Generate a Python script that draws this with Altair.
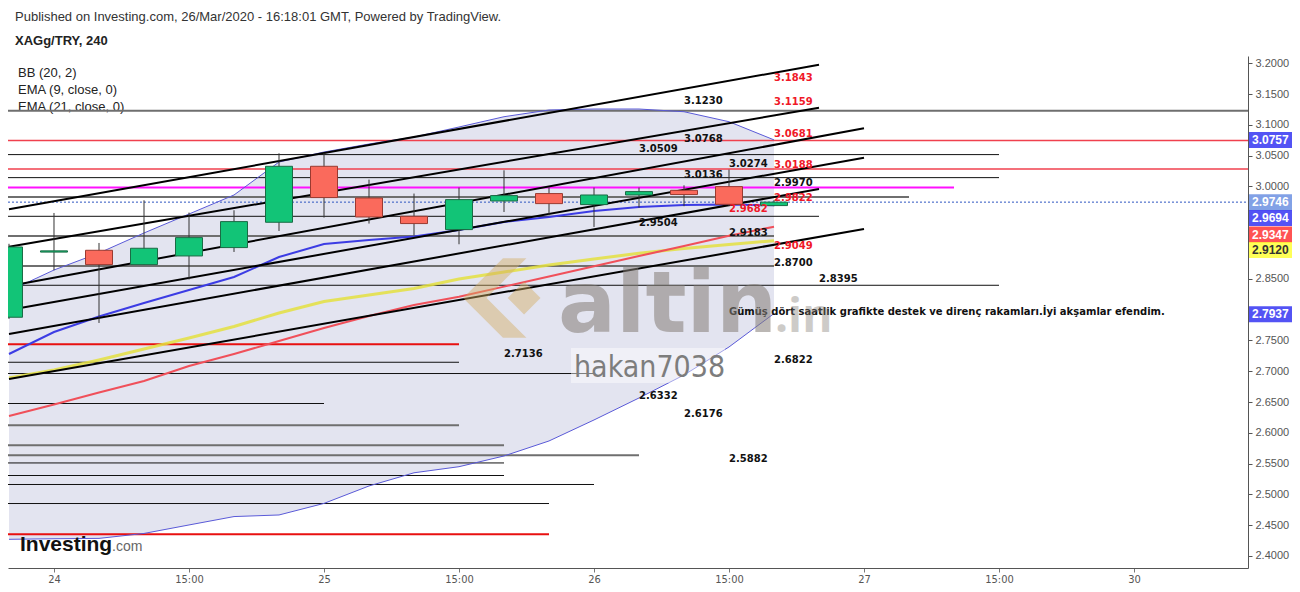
import altair as alt
import pandas as pd

# ---------------- data ----------------
opens  = [2.7877, 2.8935, 2.8964, 2.8732, 2.8872, 2.9008, 2.9419, 3.0328, 2.9813, 2.9516, 2.9300, 2.9765, 2.9885, 2.9706, 2.9862, 2.9938, 2.9998, 2.9690]
closes = [2.9018, 2.8955, 2.8732, 2.8997, 2.9170, 2.9430, 3.0328, 2.9820, 2.9505, 2.9398, 2.9787, 2.9852, 2.9722, 2.9862, 2.9917, 2.9869, 2.9711, 2.9746]
highs  = [2.9070, 2.9570, 2.9083, 2.9776, 2.9576, 2.9614, 3.0539, 3.0544, 3.0112, 2.9885, 2.9982, 3.0263, 2.9982, 2.9982, 2.9982, 3.0019, 3.0274, 2.9780]
lows   = [2.7850, 2.8640, 2.7784, 2.8732, 2.8489, 2.8937, 2.9278, 2.9495, 2.9398, 2.9208, 2.9062, 2.9586, 2.9532, 2.9343, 2.9657, 2.9679, 2.9682, 2.9680]

bb_upper = [2.8303, 2.8644, 2.8920, 2.9245, 2.9553, 2.9862, 3.0397, 3.0560, 3.0690, 3.0803, 3.0966, 3.1133, 3.1242, 3.1258, 3.1258, 3.1214, 3.1052, 3.0757]
bb_mid   = [2.7280, 2.7637, 2.7889, 2.8108, 2.8319, 2.8530, 2.8855, 2.9066, 2.9131, 2.9188, 2.9293, 2.9423, 2.9504, 2.9602, 2.9667, 2.9699, 2.9707, 2.9694]
bb_lower = [2.4271, 2.4280, 2.4286, 2.4366, 2.4504, 2.4640, 2.4666, 2.4854, 2.5137, 2.5351, 2.5450, 2.5624, 2.5868, 2.6209, 2.6566, 2.6939, 2.7394, 2.7937]
ema_red    = [2.6273, 2.6460, 2.6655, 2.6842, 2.7085, 2.7280, 2.7491, 2.7702, 2.7897, 2.8076, 2.8209, 2.8374, 2.8538, 2.8704, 2.8870, 2.9034, 2.9199, 2.9347]
ema_yellow = [2.6890, 2.7020, 2.7183, 2.7361, 2.7540, 2.7727, 2.7946, 2.8133, 2.8238, 2.8344, 2.8498, 2.8611, 2.8725, 2.8823, 2.8915, 2.8993, 2.9058, 2.9120]

x_tick_idx = [1, 4, 7, 10, 13, 16, 19, 22, 25]
x_tick_labels = ["24", "15:00", "25", "15:00", "26", "15:00", "27", "15:00", "30"]
# visible right-axis labels (2.8000, 2.9000 and 2.9500 are hidden under the price tags)
y_tick_values = [2.40, 2.45, 2.50, 2.55, 2.60, 2.65, 2.70, 2.75, 2.85, 3.00, 3.05, 3.10, 3.15, 3.20]

# trend channel lines (start candle, start price, end candle, end price)
tl_x0 = [0, 0, 0, 0, 0, 0]
tl_y0 = [2.9630, 2.9022, 2.8384, 2.7994, 2.7605, 2.6874]
tl_x1 = [18, 18, 19, 19, 18, 19]
tl_y1 = [3.1977, 3.1279, 3.0945, 3.0467, 2.9959, 2.9310]

# horizontal levels (price, candle index where the line ends)
red_levels = [3.0745, 3.0284]
red_ends = [30, 30]
red_thick_levels = [2.7438, 2.4354]
red_thick_ends = [10, 12]
black_levels = [3.0518, 3.0144, 2.9516, 2.8396, 2.7146, 2.6963, 2.6476, 2.5511, 2.5307, 2.5161, 2.4852]
black_ends = [22, 22, 18, 22, 10, 13, 7, 11, 11, 13, 12]
gray_levels = [3.1230, 2.9830, 2.9197, 2.8709, 2.6123, 2.5799, 2.5636]
gray_ends = [30, 20, 17, 17, 10, 11, 14]
magenta_levels = [2.9982]
magenta_ends = [21]
current_price = [2.9746]

# level labels (text, candle index, price position)
black_lbl_text = ["3.1230", "3.0768", "3.0509", "3.0274", "3.0136", "2.9970", "2.9504", "2.9183", "2.8700", "2.8395",
                  "2.7136", "2.6822", "2.6332", "2.6176", "2.5882"]
black_lbl_x = [15, 15, 14, 16, 15, 17, 14, 16, 17, 18, 11, 17, 14, 15, 16]
black_lbl_y = [3.1393, 3.0776, 3.0604, 3.0370, 3.0182, 3.0061, 2.9412, 2.9240, 2.8753, 2.8493,
               2.7280, 2.7183, 2.6598, 2.6306, 2.5575]
red_lbl_text = ["3.1843", "3.1159", "3.0681", "3.0188", "2.9822", "2.9682", "2.9049"]
red_lbl_x = [17, 17, 17, 17, 17, 16, 17]
red_lbl_y = [3.1761, 3.1367, 3.0847, 3.0344, 2.9808, 2.9629, 2.9029]
comment_text = ["Gümüş dört saatlik grafikte destek ve direnç rakamları.İyi akşamlar efendim."]
comment_x = [16]
comment_y = [2.7962]

# right-axis price tags (value shown, price where the tag sits after de-overlapping)
tag_text = ["3.0757", "2.9746", "2.9694", "2.9347", "2.9120", "2.7937"]
tag_pos = [3.0757, 2.9746, 2.9488, 2.9220, 2.8969, 2.7925]
tag_fill = ["#0a0af0", "#4d79dc", "#0a0af0", "#ff0a0a", "#ffff10", "#0a0af0"]
tag_text_color = ["#ffffff", "#ffffff", "#ffffff", "#ffffff", "#333333", "#ffffff"]

header_line1 = "Published on Investing.com, 26/Mar/2020 - 16:18:01 GMT, Powered by TradingView."
header_line2 = "XAGg/TRY, 240"
legend_lines = ["BB (20, 2)", "EMA (9, close, 0)", "EMA (21, close, 0)"]

# ---------------- frames ----------------
n = len(opens)
idx = list(range(n))
candles = pd.DataFrame({"i": idx, "open": opens, "close": closes, "high": highs, "low": lows})
candles["dir"] = ["up" if c >= o else "down" for o, c in zip(opens, closes)]
ind = pd.DataFrame({"i": idx, "up": bb_upper, "mid": bb_mid, "lo": bb_lower, "red": ema_red, "yel": ema_yellow})
trend = pd.DataFrame({"x0": tl_x0, "y0": tl_y0, "x1": tl_x1, "y1": tl_y1})

def levels(vals, ends):
    return pd.DataFrame({"x0": [-1] * len(vals), "x1": ends, "v": vals})

W, H = 1240, 512
LEFT, TOP = 8, 56  # page position of plot origin
xscale = alt.Scale(domain=[-0.0222, 27.533], nice=False, zero=False, padding=0)
yscale = alt.Scale(domain=[2.3805, 3.2119], nice=False, zero=False, padding=0)

NARROW = "DejaVu Sans Condensed, Roboto Condensed, Liberation Sans Narrow, Roboto, sans-serif"
label_expr = "[" + ",".join("'%s'" % s for s in x_tick_labels) + "][indexof(" + str(x_tick_idx) + ", datum.value)]"
xaxis = alt.Axis(values=x_tick_idx, labelExpr=label_expr, grid=False, title=None,
                 labelFont=NARROW, labelFontSize=11, labelColor="#555",
                 domainColor="#555", tickColor="#777", tickSize=4, labelPadding=1, labelFlush=False)
yaxis = alt.Axis(orient="right", values=y_tick_values, format=".4f", grid=False, title=None,
                 labelFont="Liberation Sans", labelFontSize=11, labelColor="#555",
                 domainColor="#555", tickColor="#555", tickSize=4, labelPadding=3, labelOverlap=False)

def X(f):
    return alt.X(f, type="quantitative", scale=xscale, axis=xaxis)

def Y(f):
    return alt.Y(f, type="quantitative", scale=yscale, axis=yaxis)

def px(v):
    return alt.value(v - LEFT)

def py(v):
    return alt.value(v - TOP)

layers = []

# legend texts inside plot
for k, t in enumerate(legend_lines):
    layers.append(alt.Chart(pd.DataFrame({"t": [t]})).mark_text(
        align="left", baseline="middle", font="Liberation Sans", fontSize=13, color="#222"
    ).encode(x=px(18), y=py(73 + 17 * k), text="t:N"))

# Bollinger band fill
layers.append(alt.Chart(ind).mark_area(color="#e3e4f0", opacity=1, clip=True).encode(
    x=X("i"), y=Y("up"), y2="lo"))

# horizontal levels
def hl(vals, ends, color, width, dash=None):
    kw = dict(color=color, strokeWidth=width, clip=True)
    if dash:
        kw["strokeDash"] = dash
    return alt.Chart(levels(vals, ends)).mark_rule(**kw).encode(x=X("x0"), x2="x1", y=Y("v"))

layers.append(hl(gray_levels, gray_ends, "#6f6f6f", 2))
layers.append(hl(black_levels, black_ends, "#111111", 1))
layers.append(hl(red_levels, red_ends, "#f0404e", 1.5))
layers.append(hl(red_thick_levels, red_thick_ends, "#e81010", 2))
layers.append(hl(magenta_levels, magenta_ends, "#ff10ff", 2))
layers.append(hl(current_price, [30], "#2b53c0", 1, [2, 2]))

# BB and EMA lines
layers.append(alt.Chart(ind).mark_line(color="#5a5ad8", strokeWidth=1, clip=True).encode(x=X("i"), y=Y("up")))
layers.append(alt.Chart(ind).mark_line(color="#5a5ad8", strokeWidth=1, clip=True).encode(x=X("i"), y=Y("lo")))
layers.append(alt.Chart(ind).mark_line(color="#e4e040", strokeWidth=3, opacity=0.85, clip=True).encode(x=X("i"), y=Y("yel")))
layers.append(alt.Chart(ind).mark_line(color="#f0505a", strokeWidth=2, clip=True).encode(x=X("i"), y=Y("red")))
layers.append(alt.Chart(ind).mark_line(color="#3c3ce4", strokeWidth=2, clip=True).encode(x=X("i"), y=Y("mid")))

# trend channel lines
layers.append(alt.Chart(trend).mark_rule(color="#000000", strokeWidth=2, clip=True).encode(
    x=X("x0"), x2="x1", y=Y("y0"), y2="y1"))

# candles
layers.append(alt.Chart(candles).mark_rule(color="#333333", strokeWidth=1, clip=True).encode(
    x=X("i"), y=Y("low"), y2="high"))
layers.append(alt.Chart(candles).mark_bar(size=27, strokeWidth=1, clip=True).encode(
    x=X("i"), y=Y("open"), y2="close",
    color=alt.Color("dir:N", scale=alt.Scale(domain=["up", "down"], range=["#12c477", "#fa6a5c"]), legend=None),
    stroke=alt.Stroke("dir:N", scale=alt.Scale(domain=["up", "down"], range=["#1b6b45", "#9a3a30"]), legend=None)))

# level labels
blk = pd.DataFrame({"t": black_lbl_text, "x": black_lbl_x, "y": black_lbl_y})
red = pd.DataFrame({"t": red_lbl_text, "x": red_lbl_x, "y": red_lbl_y})
com = pd.DataFrame({"t": comment_text, "x": comment_x, "y": comment_y})
layers.append(alt.Chart(blk).mark_text(align="left", baseline="middle", font="DejaVu Sans", fontWeight="bold",
                                        fontSize=10, color="#111").encode(x=X("x"), y=Y("y"), text="t:N"))
layers.append(alt.Chart(red).mark_text(align="left", baseline="middle", font="DejaVu Sans", fontWeight="bold",
                                        fontSize=10, color="#f01828").encode(x=X("x"), y=Y("y"), text="t:N"))
layers.append(alt.Chart(com).mark_text(align="left", baseline="middle", font="DejaVu Sans", fontWeight="bold",
                                        fontSize=10, color="#111").encode(x=X("x"), y=Y("y"), text="t:N"))

# watermark
chevron = "M-1,0 L-0.15,-0.85 L0.35,-0.85 L-0.5,0 L0.35,0.85 L-0.15,0.85 Z M-0.05,0 L0.3,-0.35 L0.65,0 L0.3,0.35 Z"
layers.append(alt.Chart(pd.DataFrame({"a": [0]})).mark_point(
    shape=chevron, size=8800, filled=True, color="#d2ac62", opacity=0.45, strokeWidth=0
).encode(x=px(510), y=py(298)))
layers.append(alt.Chart(pd.DataFrame({"t": ["altin"]})).mark_text(
    align="left", baseline="alphabetic", font="DejaVu Sans", fontWeight="bold", fontSize=86,
    color="#857e77", opacity=0.55).encode(x=px(558), y=py(332), text="t:N"))
layers.append(alt.Chart(pd.DataFrame({"t": [".in"]})).mark_text(
    align="left", baseline="alphabetic", font="Open Sans", fontWeight="bold", fontSize=46,
    color="#857e77", opacity=0.4).encode(x=px(775), y=py(332), text="t:N"))
layers.append(alt.Chart(pd.DataFrame({"a": [0]})).mark_rect(color="#ffffff", opacity=0.45).encode(
    x=px(571), x2=px(725), y=py(348), y2=py(383)))
layers.append(alt.Chart(pd.DataFrame({"t": ["hakan7038"]})).mark_text(
    align="left", baseline="alphabetic", font=NARROW, fontSize=30,
    color="#7d7d7d").encode(x=px(574), y=py(377), text="t:N"))

# right-axis price tags
tags = pd.DataFrame({"v": tag_pos, "t": tag_text, "f": tag_fill, "c": tag_text_color})
layers.append(alt.Chart(tags).mark_tick(orient="horizontal", size=43, thickness=16).encode(
    x=px(1270.5), y=Y("v"), color=alt.Color("f:N", scale=None)))
layers.append(alt.Chart(tags).mark_text(align="left", baseline="middle", font="Liberation Sans",
                                         fontWeight="bold", fontSize=12).encode(
    x=px(1252), y=Y("v"), text="t:N", color=alt.Color("c:N", scale=None)))

# header texts
layers.append(alt.Chart(pd.DataFrame({"t": [header_line1]})).mark_text(
    align="left", baseline="middle", font="Liberation Sans", fontSize=13, color="#333"
).encode(x=px(15), y=py(17), text="t:N"))
layers.append(alt.Chart(pd.DataFrame({"t": [header_line2]})).mark_text(
    align="left", baseline="middle", font="Liberation Sans", fontWeight="bold", fontSize=13, color="#222"
).encode(x=px(15), y=py(41), text="t:N"))

# Investing.com logo
layers.append(alt.Chart(pd.DataFrame({"t": ["Investing"]})).mark_text(
    align="left", baseline="alphabetic", font="Liberation Sans", fontWeight="bold", fontSize=21, color="#111"
).encode(x=px(20), y=py(551), text="t:N"))
layers.append(alt.Chart(pd.DataFrame({"t": [".com"]})).mark_text(
    align="left", baseline="alphabetic", font="Liberation Sans", fontSize=14, color="#666"
).encode(x=px(112), y=py(551), text="t:N"))

chart = alt.layer(*layers).properties(
    width=W, height=H,
    autosize=alt.AutoSizeParams(type="none"),
    padding={"left": 0, "top": 48, "right": 44, "bottom": 17},
    background="#ffffff",
).configure_view(stroke=None)

chart.save("out.html", embed_options={"renderer": "svg", "actions": False})
